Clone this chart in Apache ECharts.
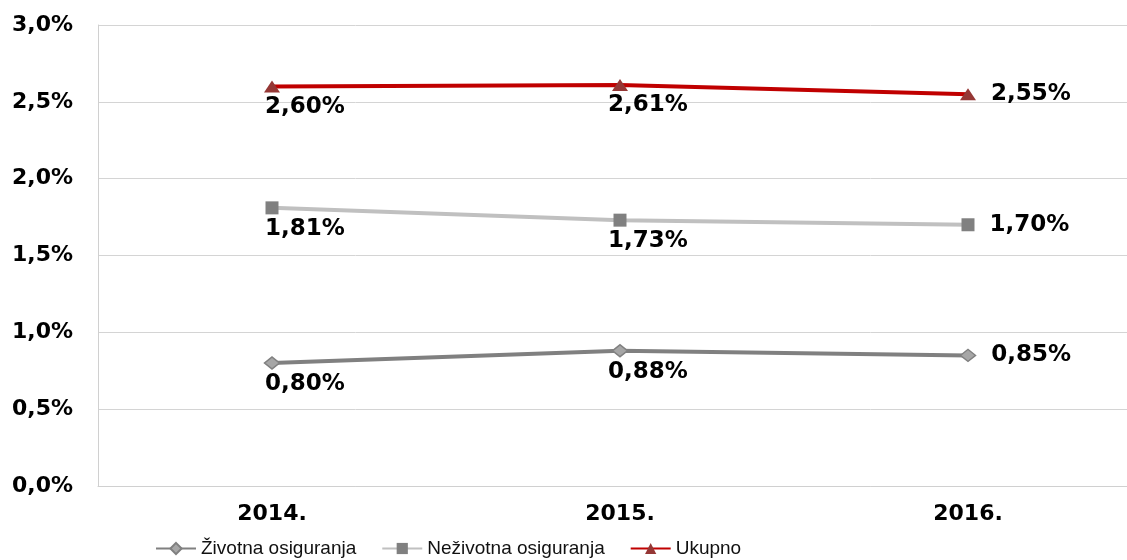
<!DOCTYPE html>
<html>
<head>
<meta charset="utf-8">
<script src="https://cdn.jsdelivr.net/npm/echarts@6/dist/echarts.min.js"></script>
<style>
  html, body { margin: 0; padding: 0; background: #fff; }
  #chart { width: 1127px; height: 560px; }
</style>
</head>
<body>
<div id="chart"></div>
<script>
// data
const years = ['2014.', '2015.', '2016.']
const zivotna = [0.80, 0.88, 0.85]
const nezivotna = [1.81, 1.73, 1.70]
const ukupno = [2.60, 2.61, 2.55]

const boldFont = '"DejaVu Sans", sans-serif'
const font = 'Arial, "Liberation Sans", sans-serif'
const fmt = v => v.toFixed(2).replace('.', ',') + '%'

// labels: below (shifted right) for first two points, right of the last one
const labelFor = (i) => i < 2
  ? { position: 'bottom', distance: 3, offset: [i === 0 ? 33 : 28, 0] }
  : { position: 'right', distance: 15 }

const mkData = arr => arr.map((v, i) => ({ value: v, label: labelFor(i) }))

const labelBase = {
  show: true,
  color: '#000',
  fontFamily: boldFont,
  fontWeight: 'bold',
  fontSize: 23,
  formatter: p => fmt(p.value)
}

const chart = echarts.init(document.getElementById('chart'))
chart.setOption({
  animation: false,
  // plot runs a bit past the right edge, like the original
  grid: { left: 98, right: -15, top: 25, bottom: 74, outerBoundsMode: 'none' },
  legend: {
    bottom: -3,
    left: 150,
    itemWidth: 40,
    itemHeight: 14,
    itemGap: 25,
    textStyle: { fontFamily: font, fontSize: 19, color: '#111' },
    data: ['Životna osiguranja', 'Neživotna osiguranja', 'Ukupno']
  },
  xAxis: {
    type: 'category',
    data: years,
    boundaryGap: true,
    axisLine: { lineStyle: { color: '#d0d0d0' } },
    axisTick: { show: false },
    axisLabel: { color: '#000', fontFamily: boldFont, fontWeight: 'bold', fontSize: 22, margin: 17 }
  },
  yAxis: {
    type: 'value',
    min: 0,
    max: 3,
    interval: 0.5,
    axisLine: { show: true, lineStyle: { color: '#d0d0d0' } },
    axisTick: { show: false },
    splitLine: { lineStyle: { color: '#d4d4d4' } },
    axisLabel: {
      color: '#000', fontFamily: boldFont, fontWeight: 'bold', fontSize: 22, margin: 25,
      formatter: v => v.toFixed(1).replace('.', ',') + '%'
    }
  },
  series: [
    {
      name: 'Životna osiguranja',
      type: 'line',
      data: mkData(zivotna),
      symbol: 'diamond',
      symbolSize: [15, 12],
      lineStyle: { color: '#808080', width: 4 },
      itemStyle: { color: '#a6a6a6', borderColor: '#808080', borderWidth: 1.5 },
      label: labelBase
    },
    {
      name: 'Neživotna osiguranja',
      type: 'line',
      data: mkData(nezivotna),
      symbol: 'rect',
      symbolSize: 13,
      lineStyle: { color: '#c0c0c0', width: 4 },
      itemStyle: { color: '#808080' },
      label: labelBase
    },
    {
      name: 'Ukupno',
      type: 'line',
      data: mkData(ukupno),
      symbol: 'triangle',
      symbolSize: [16, 12],
      lineStyle: { color: '#c00000', width: 4 },
      itemStyle: { color: '#953735' },
      label: labelBase
    }
  ]
})
</script>
</body>
</html>
